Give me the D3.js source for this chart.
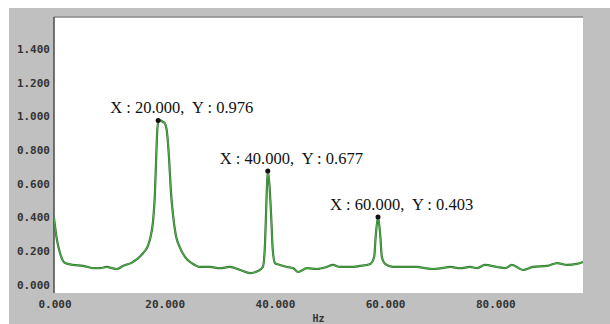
<!DOCTYPE html>
<html>
<head>
<meta charset="utf-8">
<script src="https://cdn.jsdelivr.net/npm/d3@7"></script>
<style>
  body { margin: 0; background: #fff; }
</style>
</head>
<body>
<div id="chart"></div>
<script>

// spectrum trace (Hz, amplitude)
var freq = [0, 0.54, 1.09, 2.0, 3.45, 5.26, 6.17, 7.08, 8.35, 9.62, 10.5, 11.4, 12.5, 14.3, 16.2, 17.1, 17.6, 18.0, 18.3, 18.5, 18.7, 18.9, 19.2, 19.8, 20.1, 20.5, 20.9, 21.2, 21.6, 22.1, 22.9, 23.8, 25.0, 26.5, 28.3, 30.1, 31.9, 33.8, 35.6, 37.0, 37.9, 38.3, 38.6, 38.8, 39.1, 39.4, 39.7, 40.1, 41.0, 42.3, 43.4, 44.3, 45.9, 47.7, 49.5, 50.6, 51.9, 53.7, 55.5, 57.4, 58.1, 58.4, 58.8, 59.2, 59.5, 60.1, 61.5, 63.3, 64.6, 65.9, 67.3, 68.8, 70.4, 71.9, 73.7, 75.5, 76.8, 78.2, 80.4, 81.9, 83.1, 85.1, 86.9, 89.5, 91.3, 93.1, 94.9, 96.0]
var amp = [0.397, 0.267, 0.19, 0.13, 0.119, 0.113, 0.107, 0.10, 0.10, 0.107, 0.10, 0.095, 0.113, 0.136, 0.19, 0.237, 0.297, 0.386, 0.534, 0.712, 0.89, 0.976, 0.976, 0.967, 0.96, 0.907, 0.74, 0.563, 0.415, 0.297, 0.219, 0.166, 0.13, 0.107, 0.107, 0.10, 0.107, 0.089, 0.071, 0.083, 0.107, 0.249, 0.546, 0.677, 0.593, 0.415, 0.208, 0.13, 0.119, 0.107, 0.10, 0.077, 0.10, 0.095, 0.107, 0.119, 0.107, 0.107, 0.113, 0.125, 0.166, 0.297, 0.403, 0.297, 0.166, 0.125, 0.107, 0.107, 0.107, 0.107, 0.10, 0.095, 0.10, 0.107, 0.10, 0.107, 0.10, 0.119, 0.107, 0.10, 0.119, 0.089, 0.107, 0.113, 0.13, 0.119, 0.125, 0.136]

// marked peaks
var peakX = [18.9, 38.8, 58.8]
var peakY = [0.976, 0.677, 0.403]
var peakText = ["X : 20.000,  Y : 0.976", "X : 40.000,  Y : 0.677", "X : 60.000,  Y : 0.403"]

var xTicks = [0, 20, 40, 60, 80]
var yTicks = [0, 0.2, 0.4, 0.6, 0.8, 1.0, 1.2, 1.4]

var width = 610
var height = 324
var plot = { left: 54, top: 17, right: 583, bottom: 293 }

var data = freq.map(function(f, i) { return { x: f, y: amp[i] } })

var svg = d3.select("#chart")
  .append("svg")
    .attr("width", width)
    .attr("height", height)

// grey panel behind the plot
svg.append("rect")
  .attr("x", 9).attr("y", 8)
  .attr("width", width - 9).attr("height", height - 8)
  .attr("fill", "#c0c0c0")

svg.append("rect")
  .attr("x", plot.left).attr("y", plot.top)
  .attr("width", plot.right - plot.left).attr("height", plot.bottom - plot.top)
  .attr("fill", "#fff")

var x = d3.scaleLinear()
  .domain([0, 96])
  .range([plot.left, plot.right])

var y = d3.scaleLinear()
  .domain([0, 1.4])
  .range([285, 49])

// frame lines
svg.append("line")
  .attr("x1", plot.left).attr("x2", plot.right)
  .attr("y1", plot.top).attr("y2", plot.top)
  .attr("stroke", "#8a8a8a").attr("stroke-width", 1.5)
svg.append("line")
  .attr("x1", plot.left).attr("x2", plot.left)
  .attr("y1", plot.top).attr("y2", plot.bottom)
  .attr("stroke", "#4a4a4a").attr("stroke-width", 1.5)

// tick labels
svg.append("g").selectAll("text")
  .data(yTicks)
  .enter().append("text")
    .attr("x", 50)
    .attr("y", function(d) { return y(d) })
    .attr("dy", "0.35em")
    .attr("text-anchor", "end")
    .style("font", "bold 11px 'DejaVu Sans Mono'")
    .style("fill", "#333")
    .text(function(d) { return d3.format(".3f")(d) })

svg.append("g").selectAll("text")
  .data(xTicks)
  .enter().append("text")
    .attr("x", function(d) { return x(d) + 1 })
    .attr("y", 308)
    .attr("text-anchor", "middle")
    .style("font", "bold 11px 'DejaVu Sans Mono'")
    .style("fill", "#333")
    .text(function(d) { return d3.format(".3f")(d) })

svg.append("text")
  .attr("x", (plot.left + plot.right) / 2)
  .attr("y", 322)
  .attr("text-anchor", "middle")
  .style("font", "bold 10px 'DejaVu Sans Mono'")
  .style("fill", "#333")
  .text("Hz")

// spectrum line
var line = d3.line()
  .x(function(d) { return x(d.x) })
  .y(function(d) { return y(d.y) })
  .curve(d3.curveMonotoneX)

svg.append("path")
  .datum(data)
  .attr("fill", "none")
  .attr("stroke", "#2f6f2f")
  .attr("stroke-width", 2.2)
  .attr("stroke-linejoin", "round")
  .attr("d", line)

svg.append("path")
  .datum(data)
  .attr("fill", "none")
  .attr("stroke", "#4fae4a")
  .attr("stroke-width", 1.1)
  .attr("stroke-linejoin", "round")
  .attr("d", line)

// peak markers and their labels
var peaks = svg.append("g").selectAll("g")
  .data(peakX)
  .enter().append("g")

peaks.append("circle")
  .attr("cx", function(d) { return x(d) })
  .attr("cy", function(d, i) { return y(peakY[i]) })
  .attr("r", 2.5)
  .attr("fill", "#111")

peaks.append("text")
  .attr("x", function(d) { return x(d) - 48 })
  .attr("y", function(d, i) { return y(peakY[i]) - 7 })
  .style("font", "16.5px 'Liberation Serif'")
  .style("white-space", "pre")
  .style("fill", "#111")
  .text(function(d, i) { return peakText[i] })

</script>
</body>
</html>
